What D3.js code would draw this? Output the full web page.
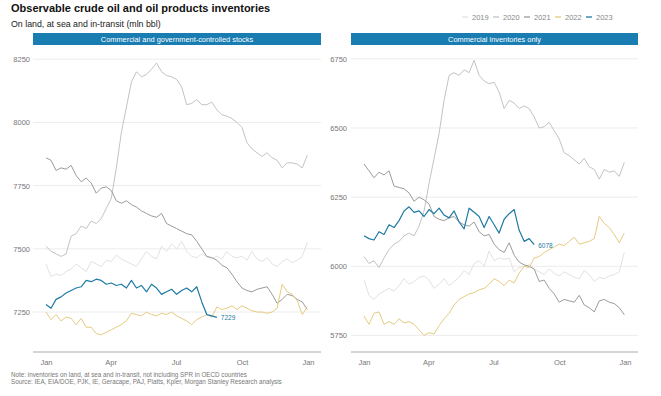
<!DOCTYPE html>
<html lang="en">
<head>
  <meta charset="UTF-8">
  <title>Observable crude oil and oil products inventories</title>
  <script src="https://d3js.org/d3.v7.min.js"></script>
  <style>
    body { margin: 0; background: #fff; }
    svg { font-family: "Liberation Sans", Arial, sans-serif; }
    .grid line { stroke: #ececec; stroke-width: 1; }
    .tick text { fill: #777; font-size: 7.5px; }
    .note { fill: #777; font-size: 6.3px; }
  </style>
</head>
<body>
  <svg width="661" height="396"></svg>
  <script>
    // weekly readings, week 0 = early Jan, week 52 = end Dec
    const years = ["2019", "2020", "2021", "2022", "2023"];
    const colors = ["#e2e2e2", "#c3c3c3", "#9b9b9b", "#e5cb7f", "#1f7aa4"];

    // panel 1: commercial and government-controlled stocks (mln bbl)
    const total2019 = [7440,7390,7400,7395,7410,7420,7440,7425,7410,7450,7440,7430,7455,7450,7475,7460,7450,7440,7430,7460,7490,7470,7460,7510,7490,7520,7500,7530,7490,7470,7465,7480,7470,7460,7470,7460,7490,7470,7465,7470,7455,7490,7460,7450,7465,7440,7430,7450,7460,7445,7455,7470,7525];
    const total2020 = [7510,7490,7480,7470,7480,7550,7560,7590,7580,7610,7600,7620,7660,7700,7820,7960,8060,8160,8200,8180,8190,8210,8235,8200,8185,8180,8170,8140,8070,8075,8090,8070,8070,8080,8050,8030,8025,8015,8000,7980,7920,7895,7880,7865,7880,7860,7850,7820,7840,7840,7835,7820,7870];
    const total2021 = [7860,7850,7810,7820,7815,7830,7790,7765,7780,7760,7720,7740,7745,7730,7690,7680,7690,7675,7665,7650,7640,7630,7625,7640,7600,7590,7580,7570,7560,7555,7530,7500,7470,7465,7455,7435,7425,7400,7370,7345,7335,7330,7340,7345,7350,7320,7285,7300,7320,7315,7300,7290,7260];
    const total2022 = [7250,7220,7240,7215,7230,7225,7200,7225,7190,7190,7165,7160,7170,7180,7190,7200,7215,7245,7240,7235,7250,7240,7235,7245,7240,7250,7235,7225,7215,7200,7220,7230,7240,7230,7270,7260,7265,7275,7260,7275,7265,7255,7250,7250,7245,7250,7265,7360,7330,7320,7295,7240,7270];
    const total2023 = [7280,7265,7300,7310,7325,7335,7345,7350,7375,7370,7380,7375,7360,7365,7355,7360,7345,7375,7345,7355,7330,7360,7345,7320,7330,7340,7320,7335,7345,7330,7350,7290,7240,7235,7229];

    // panel 2: commercial inventories only (mln bbl)
    const comm2019 = [5950,5895,5880,5900,5910,5920,5910,5930,5955,5935,5945,5960,5965,5950,5920,5935,5955,5930,5945,5960,5985,5970,6010,6020,6000,6055,6020,6030,6025,6030,5980,5995,6000,6005,5990,5980,5970,5990,5975,5965,5980,5970,5960,5955,5985,5970,5945,5960,5955,5965,5970,5980,6050];
    const comm2020 = [6035,6010,6020,5995,6030,6060,6080,6090,6110,6120,6110,6145,6200,6300,6390,6480,6600,6690,6700,6690,6710,6700,6745,6690,6670,6660,6665,6630,6570,6600,6590,6570,6580,6570,6540,6500,6505,6520,6490,6460,6410,6400,6385,6370,6390,6360,6350,6315,6350,6340,6345,6325,6375];
    const comm2021 = [6370,6345,6320,6340,6330,6345,6290,6285,6280,6265,6235,6250,6240,6225,6180,6170,6165,6175,6180,6160,6150,6145,6160,6125,6110,6115,6080,6060,6050,6085,6040,6015,6005,6000,5990,5945,5950,5920,5900,5870,5880,5875,5870,5895,5860,5850,5835,5875,5880,5870,5865,5850,5825];
    const comm2022 = [5820,5790,5830,5835,5790,5800,5790,5810,5795,5800,5790,5770,5750,5760,5755,5785,5810,5830,5860,5880,5890,5900,5905,5915,5920,5935,5955,5945,5930,5950,5940,5975,6000,5995,6030,6035,6050,6060,6070,6080,6075,6090,6105,6080,6085,6090,6100,6180,6155,6140,6115,6085,6120];
    const comm2023 = [6110,6100,6095,6125,6115,6150,6140,6165,6200,6215,6195,6200,6180,6205,6190,6210,6185,6175,6200,6160,6135,6210,6195,6180,6140,6180,6150,6120,6170,6190,6205,6130,6090,6100,6078];

    const monthTicks = ["Jan", "Apr", "Jul", "Oct", "Jan"];

    const panels = [
      { title: "Commercial and government-controlled stocks",
        series: [total2019, total2020, total2021, total2022, total2023],
        yTicks: [7250, 7500, 7750, 8000, 8250], yDomain: [7092, 8306],
        left: 33, right: 321, x0: 46, x1: 308, labelX: 30 },
      { title: "Commercial inventories only",
        series: [comm2019, comm2020, comm2021, comm2022, comm2023],
        yTicks: [5750, 6000, 6250, 6500, 6750], yDomain: [5690, 6800],
        left: 351, right: 638, x0: 364, x1: 625, labelX: 347 }
    ];

    const svg = d3.select("svg");
    const plotTop = 45, plotBottom = 352;

    svg.append("text").attr("x", 11).attr("y", 12)
      .attr("font-size", 11).attr("font-weight", "bold").attr("fill", "#111")
      .text("Observable crude oil and oil products inventories");
    svg.append("text").attr("x", 11).attr("y", 27)
      .attr("font-size", 8.8).attr("fill", "#222")
      .text("On land, at sea and in-transit (mln bbl)");

    // legend
    let lx = 462;
    years.forEach((yr, i) => {
      svg.append("line").attr("x1", lx).attr("x2", lx + 6).attr("y1", 17).attr("y2", 17)
        .attr("stroke", colors[i]).attr("stroke-width", 1.3);
      svg.append("text").attr("x", lx + 10).attr("y", 20)
        .attr("font-size", 7.5).attr("fill", "#888").text(yr);
      lx += 31;
    });

    const weekDate = i => new Date(2023, 0, 1 + 7 * i);

    panels.forEach(p => {
      const g = svg.append("g");
      const x = d3.scaleTime()
        .domain([new Date(2023, 0, 1), new Date(2024, 0, 1)])
        .range([p.x0, p.x1]);
      const y = d3.scaleLinear().domain(p.yDomain).range([plotBottom, plotTop]);

      g.append("rect").attr("x", p.left).attr("y", 33)
        .attr("width", p.right - p.left).attr("height", 12).attr("fill", "#1a7db1");
      g.append("text").attr("x", (p.left + p.right) / 2).attr("y", 41.5)
        .attr("text-anchor", "middle").attr("font-size", 7.4).attr("fill", "#fff")
        .text(p.title);

      g.append("g").attr("class", "grid").selectAll("line")
        .data(p.yTicks).join("line")
        .attr("x1", p.left).attr("x2", p.right)
        .attr("y1", d => y(d)).attr("y2", d => y(d));

      const yAxis = g.append("g").attr("transform", `translate(${p.labelX},0)`)
        .call(d3.axisLeft(y).tickValues(p.yTicks).tickSize(0).tickPadding(0).tickFormat(d3.format("d")));
      yAxis.select(".domain").remove();

      const xAxis = g.append("g").attr("transform", `translate(0,${plotBottom})`)
        .call(d3.axisBottom(x)
          .tickValues([0, 3, 6, 9, 12].map(m => new Date(2023 + Math.floor(m / 12), m % 12, 1)))
          .tickFormat((d, i) => monthTicks[i])
          .tickSize(0).tickPadding(8));
      xAxis.select(".domain").remove();
      g.append("line").attr("x1", p.left).attr("x2", p.right)
        .attr("y1", plotBottom).attr("y2", plotBottom).attr("stroke", "#aaa");

      const line = d3.line().x((d, i) => x(weekDate(i))).y(d => y(d));
      p.series.forEach((s, i) => {
        g.append("path").datum(s).attr("d", line)
          .attr("fill", "none").attr("stroke", colors[i])
          .attr("stroke-width", i === 4 ? 1.2 : 1).attr("stroke-linejoin", "round");
      });

      const last = p.series[4];
      const li = last.length - 1;
      g.append("text").attr("x", x(weekDate(li)) + 4).attr("y", y(last[li]) + 3)
        .attr("font-size", 6.5).attr("fill", colors[4]).text(last[li]);
    });

    svg.append("text").attr("class", "note").attr("x", 11).attr("y", 377)
      .text("Note: inventories on land, at sea and in-transit, not including SPR in OECD countries");
    svg.append("text").attr("class", "note").attr("x", 11).attr("y", 384)
      .text("Source: IEA, EIA/DOE, PJK, IE, Geracape, PAJ, Platts, Kpler, Morgan Stanley Research analysis");
  </script>
</body>
</html>
